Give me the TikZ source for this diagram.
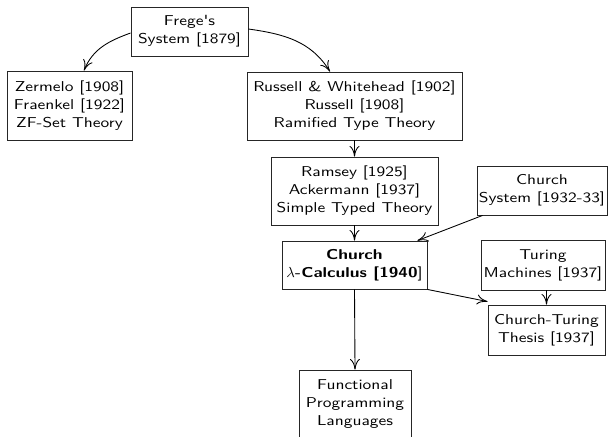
\documentclass[tikz,border=0pt]{standalone}
\usepackage{fontspec}
\newfontfamily\widesans{Latin Modern Sans}[FakeStretch=1.22]
\usetikzlibrary{calc,arrows.meta}
\begin{document}
\begin{tikzpicture}[x=0.75pt,y=-0.75pt,
  box/.style={draw=black!85,line width=0.65pt,align=center,inner sep=0pt,
    font=\widesans\fontsize{10.7}{13.5}\selectfont},
  arr/.style={-{To[length=8pt,width=7.5pt]},line width=0.65pt}]
\clip (0,0) rectangle (613,436);
\node[box,minimum width=87.75pt,minimum height=36.75pt] (frege) at (189.5,31.5) {Frege's\\System [1879]};
\node[box,minimum width=93.75pt,minimum height=51.75pt] (zf) at (69.5,105.5) {Zermelo [1908]\\Fraenkel [1922]\\ZF-Set Theory};
\node[box,minimum width=161.25pt,minimum height=51pt] (rw) at (354.5,106) {Russell \& Whitehead [1902]\\Russell [1908]\\Ramified Type Theory};
\node[box,minimum width=125.25pt,minimum height=51pt] (ra) at (354.5,191) {Ramsey [1925]\\Ackermann [1937]\\Simple Typed Theory};
\node[box,minimum width=97.5pt,minimum height=36.75pt] (cs) at (542,190.5) {Church\\System [1932-33]};
\node[box,minimum width=108.75pt,minimum height=36pt] (cl) at (354.5,265) {\textbf{Church}\\$\lambda$\textbf{-Calculus [1940}]};
\node[box,minimum width=93pt,minimum height=37.5pt] (tm) at (543,265) {Turing\\Machines [1937]};
\node[box,minimum width=87.75pt,minimum height=37.5pt] (ct) at (546.5,330) {Church-Turing\\Thesis [1937]};
\node[box,minimum width=84pt,minimum height=51.75pt] (fp) at (355,404.5) {Functional\\Programming\\Languages};
\draw[arr] ($(frege.west)+(0,1.5)$) to[out=200,in=68] ($(zf.north)+(14.5,0)$);
\draw[arr] ($(frege.east)+(0,-2.5)$) to[out=-8,in=122] ($(rw.north)+(-24.5,0)$);
\draw[arr] (rw.south) -- (ra.north);
\draw[arr] (ra.south) -- (cl.north);
\draw[arr] ($(cs.south west)+(6,0)$) -- ($(cl.north east)+(-10,0)$);
\draw[arr] (cl.south east) -- ($(ct.north west)+(0,-3)$);
\draw[arr] (ct.north |- tm.south) -- (ct.north);
\draw[arr] (cl.south) -- (fp.north);
\end{tikzpicture}
\end{document}
